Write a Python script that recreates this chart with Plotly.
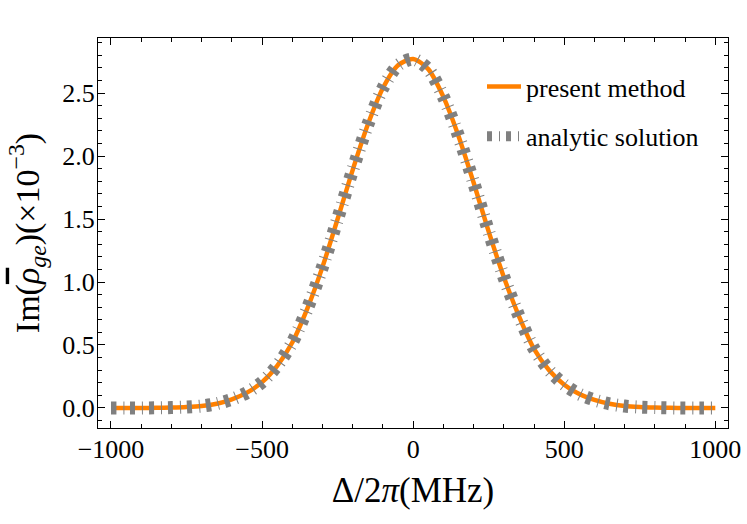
import plotly.graph_objects as go

# Detuning Δ/2π (MHz)
delta = [-1000, -950, -900, -850, -800, -750, -700, -650, -600, -550, -500,
         -450, -400, -350, -300, -250, -200, -150, -100, -50, 0,
         50, 100, 150, 200, 250, 300, 350, 400, 450, 500,
         550, 600, 650, 700, 750, 800, 850, 900, 950, 1000]

# Im(rho_ge) (x1e-3), present method
present = [0.0, 0.0, 0.0, 0.001, 0.003, 0.007, 0.015, 0.034, 0.069, 0.122, 0.205,
           0.335, 0.52, 0.79, 1.12, 1.50, 1.89, 2.25, 2.54, 2.72, 2.77,
           2.69, 2.47, 2.16, 1.79, 1.40, 1.04, 0.73, 0.47, 0.30, 0.185,
           0.11, 0.064, 0.033, 0.015, 0.007, 0.003, 0.001, 0.0, 0.0, 0.0]

# analytic solution (same curve within the picture's resolution)
analytic = list(present)

x_ticks = [-1000, -500, 0, 500, 1000]
x_labels = ["\u22121000", "\u2212500", "0", "500", "1000"]
y_ticks = [0.0, 0.5, 1.0, 1.5, 2.0, 2.5]
y_labels = ["0.0", "0.5", "1.0", "1.5", "2.0", "2.5"]

FONT = "Liberation Serif, Times New Roman, serif"

fig = go.Figure()
fig.add_trace(go.Scatter(
    x=delta, y=present, mode="lines", name="present method", legendgroup="a",
    line=dict(color="#FF8000", width=4.5, shape="spline", smoothing=0.8),
))
fig.add_trace(go.Scatter(
    x=delta, y=analytic, mode="lines", name="analytic solution", legendgroup="b",
    line=dict(color="#808080", width=13, shape="spline", smoothing=0.8,
              dash="5px,7px,1px,6px"),
))

axis_common = dict(
    showline=True, linecolor="black", linewidth=1.3, mirror="allticks",
    ticks="inside", ticklen=7, tickwidth=1, tickcolor="black",
    showgrid=False, zeroline=False, automargin=False,
    tickfont=dict(family=FONT, size=26, color="black"),
)

fig.update_xaxes(
    range=[-1043, 1042], tickmode="array", tickvals=x_ticks, ticktext=x_labels,
    minor=dict(dtick=100, ticks="inside", ticklen=4, tickwidth=1, tickcolor="black", showgrid=False),
    title=dict(text="\u0394/2<i>\u03c0</i>(MHz)", font=dict(family=FONT, size=35, color="black"), standoff=14),
    ticklabelstandoff=-2,
    **axis_common,
)
fig.update_yaxes(
    range=[-0.159, 2.937], tickmode="array", tickvals=y_ticks, ticktext=y_labels,
    minor=dict(dtick=0.1, ticks="inside", ticklen=4, tickwidth=1, tickcolor="black", showgrid=False),
    title=dict(text="Im(<span style=\"text-decoration:overline\"><i>\u03c1</i></span><sub><i>ge</i></sub>)(\u00d710<sup>\u22123</sup>)",
               font=dict(family=FONT, size=34, color="black"), standoff=12),
    ticklabelstandoff=-3,
    **axis_common,
)

fig.update_layout(
    width=747, height=524,
    margin=dict(l=98, r=19, t=38, b=96),
    paper_bgcolor="white", plot_bgcolor="white",
    showlegend=True,
    legend=dict(x=(482 - 98) / 630, y=(428 - 63) / 390,
                xanchor="left", yanchor="top",
                traceorder="grouped", tracegroupgap=13, itemwidth=34,
                bgcolor="rgba(0,0,0,0)", borderwidth=0,
                font=dict(family=FONT, size=26, color="black")),
    font=dict(family=FONT, color="black"),
)

fig.write_html("out.html", config={"displayModeBar": False},
               post_script="document.body.style.margin='0';document.body.style.overflow='hidden';")
